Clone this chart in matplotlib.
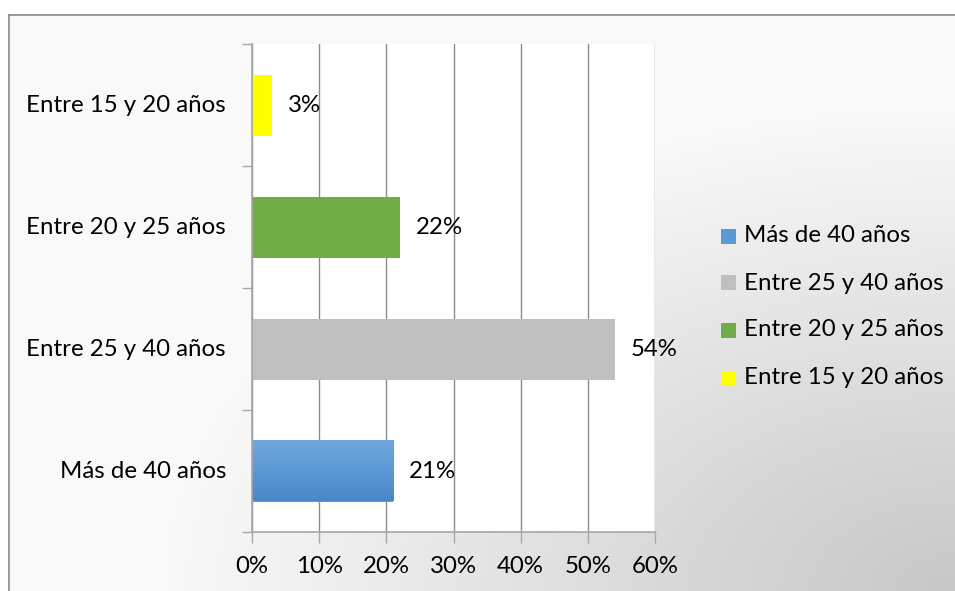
import matplotlib
matplotlib.use("Agg")
import matplotlib.pyplot as plt
import numpy as np
from matplotlib.patches import Rectangle
from matplotlib.lines import Line2D

categories = ["Más de 40 años", "Entre 25 y 40 años", "Entre 20 y 25 años", "Entre 15 y 20 años"]
values = [21, 54, 22, 3]
value_labels = ["21%", "54%", "22%", "3%"]
x_ticks = [0, 10, 20, 30, 40, 50, 60]
x_tick_labels = ["0%", "10%", "20%", "30%", "40%", "50%", "60%"]
colors = ["#5b9bd5", "#bfbfbf", "#70ad47", "#ffff00"]

FONT = "Lato"
FS = 17.3
W, H = 955, 591
fig = plt.figure(figsize=(W / 100, H / 100), dpi=100)
fig.patch.set_facecolor("white")

# background gradient inside the chart border
bx0, by0 = 9, 15
bg = fig.add_axes([bx0 / W, 0, 1 - bx0 / W, (H - by0) / H])
bg.set_axis_off()
gx = np.linspace(0, 1, 300)
gy = np.linspace(0, 1, 200)
X, Y = np.meshgrid(gx, gy)
d = np.sqrt((1 - X) ** 2 + (1 - Y) ** 2) / np.sqrt(2)
v = 0.78 + 0.2 * np.clip(d / 0.6, 0, 1)
bg.imshow(np.dstack([v, v, v]), extent=[0, 1, 1, 0], aspect="auto", interpolation="bilinear")
bg.set_xlim(0, 1)
bg.set_ylim(1, 0)
fig.add_artist(Line2D([bx0 / W, 1], [1 - by0 / H, 1 - by0 / H], color="#8a8a8a", lw=1.2, transform=fig.transFigure))
fig.add_artist(Line2D([bx0 / W, bx0 / W], [0, 1 - by0 / H], color="#8a8a8a", lw=1.2, transform=fig.transFigure))

# plot area
L, T, R, B = 252, 44, 655, 532
ax = fig.add_axes([L / W, (H - B) / H, (R - L) / W, (B - T) / H])
ax.set_facecolor("white")
ypos = np.arange(len(categories))
bars = ax.barh(ypos, values, height=0.5, color=colors, zorder=3)

# gradient on blue bar
blue_bar = bars[0]
grad = np.linspace(0, 1, 100).reshape(-1, 1)
c_top = np.array([0x70, 0xa8, 0xdd]) / 255
c_bot = np.array([0x48, 0x88, 0xca]) / 255
img = c_top + (c_bot - c_top) * grad[..., None]
img = np.repeat(img, 2, axis=1)
x0, y0 = blue_bar.get_x(), blue_bar.get_y()
bw, bh = blue_bar.get_width(), blue_bar.get_height()
ax.imshow(img, extent=[x0, x0 + bw, y0, y0 + bh], origin="upper", aspect="auto", zorder=4, interpolation="bilinear")
ax.set_xlim(0, 60)
ax.set_ylim(-0.5, len(categories) - 0.5)

ax.set_xticks(x_ticks)
ax.set_xticklabels(x_tick_labels, fontsize=FS, fontname=FONT)
ax.grid(axis="x", color="#8c8c8c", lw=1, zorder=1)
ax.set_yticks(np.arange(len(categories) + 1) - 0.5)
ax.set_yticklabels([])
ax.tick_params(axis="y", length=7, color="#a6a6a6", width=1)
ax.tick_params(axis="x", length=8, color="#a6a6a6", width=1, pad=9)
for s in ["top", "right"]:
    ax.spines[s].set_visible(False)
for s in ["left", "bottom"]:
    ax.spines[s].set_color("#a6a6a6")
    ax.spines[s].set_linewidth(1.2)
    ax.spines[s].set_zorder(5)

# category labels
for i, c in enumerate(categories):
    ax.text(-26 / (R - L), i, c, transform=ax.get_yaxis_transform(), ha="right", va="center",
            fontsize=FS, fontname=FONT, color="black")

# value labels
for i, (val, lab) in enumerate(zip(values, value_labels)):
    ax.annotate(lab, (val, i), xytext=(16, 0), textcoords="offset pixels", ha="left", va="center",
                fontsize=FS, fontname=FONT, color="black", zorder=6, annotation_clip=False)

# legend (manual)
leg_y = [236, 283, 330, 378]
for i, (c, col) in enumerate(zip(categories, colors)):
    yc = leg_y[i]
    fig.add_artist(Rectangle((721 / W, 1 - (yc + 7.5) / H), 15 / W, 15 / H, transform=fig.transFigure,
                             facecolor=col, edgecolor="none"))
    fig.text(744 / W, 1 - yc / H, c, ha="left", va="center", fontsize=FS, fontname=FONT, color="black")

fig.savefig("out.png", dpi=100)
